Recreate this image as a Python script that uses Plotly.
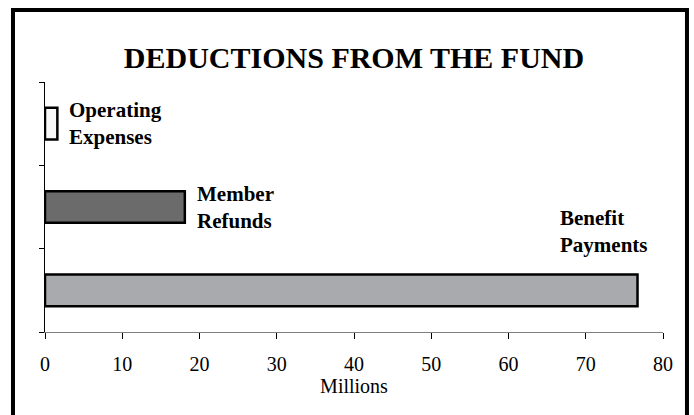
import plotly.graph_objects as go

# Deductions by category, in millions of dollars (bottom to top)
categories = ["Benefit Payments", "Member Refunds", "Operating Expenses"]
values = [76.7, 18.1, 1.6]
bar_colors = ["#a9aaae", "#6b6b6b", "#f8f8f8"]
label_lines = [["Benefit", "Payments"], ["Member", "Refunds"], ["Operating", "Expenses"]]

x_ticks = list(range(0, 81, 10))

SERIF = "Liberation Serif, Times New Roman, serif"

fig = go.Figure(
    go.Bar(
        x=values,
        y=categories,
        orientation="h",
        width=0.38,
        marker=dict(color=bar_colors, line=dict(color="black", width=2.5)),
        hoverinfo="skip",
    )
)

# Category labels beside each bar; the long bar gets its label above its end
for cat, val, lines in zip(categories, values, label_lines):
    long_bar = val > 60
    fig.add_annotation(
        x=val,
        y=cat,
        xref="x",
        yref="y",
        text="<br>".join(lines),
        showarrow=False,
        align="left",
        xanchor="right" if long_bar else "left",
        xshift=12 if long_bar else 10,
        yshift=59 if long_bar else 0,
        font=dict(family=SERIF, size=21, color="black", weight="bold"),
    )

# Heavy frame around the whole chart
fig.add_shape(
    type="rect",
    xref="paper",
    yref="paper",
    x0=-0.0518,
    x1=1.0388,
    y0=-0.372,
    y1=1.288,
    line=dict(color="black", width=4),
    fillcolor="rgba(0,0,0,0)",
)

fig.update_layout(
    width=694,
    height=415,
    margin=dict(l=45, r=31, t=82, b=83),
    paper_bgcolor="white",
    plot_bgcolor="white",
    showlegend=False,
    title=dict(
        text="<b>DEDUCTIONS FROM THE FUND</b>",
        x=0.5,
        xref="paper",
        xanchor="center",
        y=1 - 57 / 415,
        yref="container",
        yanchor="middle",
        font=dict(family=SERIF, size=30, color="black"),
    ),
    xaxis=dict(
        range=[0, 80],
        tickvals=x_ticks,
        ticktext=[str(t) for t in x_ticks],
        ticks="outside",
        ticklen=6,
        tickcolor="black",
        ticklabelstandoff=8,
        showline=True,
        linecolor="#808080",
        linewidth=1,
        showgrid=False,
        zeroline=False,
        tickfont=dict(family=SERIF, size=20, color="black"),
        title=dict(text="Millions", font=dict(family=SERIF, size=20, color="black"), standoff=2),
    ),
    yaxis=dict(
        type="category",
        categoryorder="array",
        categoryarray=categories,
        range=[-0.5, 2.5],
        showticklabels=False,
        ticks="outside",
        tickson="boundaries",
        ticklen=5,
        tickcolor="black",
        showline=True,
        linecolor="black",
        linewidth=1,
        showgrid=False,
        zeroline=False,
    ),
)

fig.write_html("out.html")
